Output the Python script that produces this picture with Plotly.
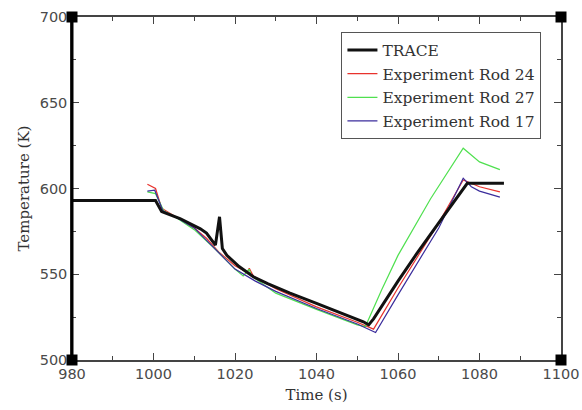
import plotly.graph_objects as go

# ---- data ----
trace_t = [980, 1000.5, 1002, 1006.5, 1011.5, 1013, 1015.2, 1016.2, 1016.9, 1018, 1021, 1024.5, 1028, 1033.5,
           1040, 1046, 1051.5, 1052.8, 1054, 1060, 1064.6, 1070, 1077, 1086]
trace_T = [593, 593, 586.5, 582.5, 576.5, 574, 567, 583.5, 565, 561, 554.5, 548.5, 544.5, 539,
           533, 527.5, 522.3, 520.5, 524, 546, 562, 580, 603, 603]

rod24_t = [998.5, 1000.5, 1002, 1005, 1010, 1013, 1016, 1020, 1023, 1023.5, 1024.5, 1030, 1040, 1050,
           1054, 1060, 1070, 1076, 1080, 1085]
rod24_T = [602.5, 600, 588.5, 584, 577, 571, 563, 555, 551, 553.5, 549, 541.5, 531, 522,
           518, 542, 580, 605, 601, 598]

rod27_t = [998.5, 1000.5, 1002.5, 1005, 1010, 1015, 1020, 1022, 1023.5, 1024, 1030, 1040, 1050, 1052,
           1056, 1060, 1068, 1076, 1080, 1085]
rod27_T = [598, 597, 587, 584, 576, 565, 553, 549, 553, 549, 539, 529.5, 520.5, 519.5,
           541, 561, 594, 623.5, 615.5, 611]

rod17_t = [998.5, 1000.3, 1002.3, 1005, 1010, 1015, 1020, 1025, 1030, 1040, 1050, 1054.5, 1060, 1070,
           1076, 1078, 1080, 1085]
rod17_T = [598.5, 599, 587, 584, 577, 565, 553, 546, 540, 530, 521, 516, 538, 577,
           606, 601, 598.5, 595]

series = [
    ("Experiment Rod 24", rod24_t, rod24_T, "#e8322c", 1.2, 2),
    ("Experiment Rod 27", rod27_t, rod27_T, "#4fe04f", 1.2, 3),
    ("Experiment Rod 17", rod17_t, rod17_T, "#3b2d9c", 1.2, 4),
    ("TRACE", trace_t, trace_T, "#111111", 3, 1),
]

fig = go.Figure()
for name, t, T, col, w, rank in series:
    fig.add_trace(go.Scatter(x=t, y=T, mode="lines", name=name,
                             line=dict(color=col, width=w),
                             legendrank=rank, legendgroup=name))

tickfont = dict(family="DejaVu Sans", size=14.5, color="#4a4a4a")
axcommon = dict(showline=True, linecolor="#444", linewidth=1.5, mirror="ticks",
                ticks="inside", ticklen=7, tickwidth=1.2, tickcolor="#444",
                showgrid=False, zeroline=False, tickfont=tickfont, automargin=False)

fig.update_xaxes(range=[980, 1100], dtick=20, tick0=980,
                 minor=dict(ticks="inside", ticklen=4, dtick=10, tickcolor="#444", tickwidth=1.2),
                 title=dict(text="Time (s)", font=dict(family="DejaVu Serif", size=15, color="#333"),
                            standoff=8),
                 **axcommon)
fig.update_yaxes(range=[500, 700], dtick=50, tick0=500,
                 minor=dict(ticks="inside", ticklen=4, dtick=25, tickcolor="#444", tickwidth=1.2),
                 title=dict(text="Temperature (K)", font=dict(family="DejaVu Serif", size=15, color="#333"),
                            standoff=6),
                 **axcommon)

shapes = [dict(type="line", xref="paper", yref="paper", x0=0, x1=0, y0=0, y1=1,
               line=dict(color="black", width=3))]
for cx in (0, 1):
    for cy in (0, 1):
        shapes.append(dict(type="rect", xref="paper", yref="paper",
                           xsizemode="pixel", ysizemode="pixel",
                           xanchor=cx, yanchor=cy, x0=-5.5, x1=5.5, y0=-5.5, y1=5.5,
                           fillcolor="black", line=dict(width=0)))

fig.update_layout(
    width=582, height=410,
    margin=dict(l=72, r=21, t=17, b=50),
    plot_bgcolor="white", paper_bgcolor="white",
    shapes=shapes,
    legend=dict(x=0.551, y=0.955, xanchor="left", yanchor="top",
                bgcolor="white", bordercolor="#555", borderwidth=1,
                font=dict(family="DejaVu Serif", size=15.5, color="#333"),
                tracegroupgap=0.5),
)

fig.write_html("out.html",
               config={"displayModeBar": False},
               post_script="document.body.style.margin='0';document.body.style.overflow='hidden';")
